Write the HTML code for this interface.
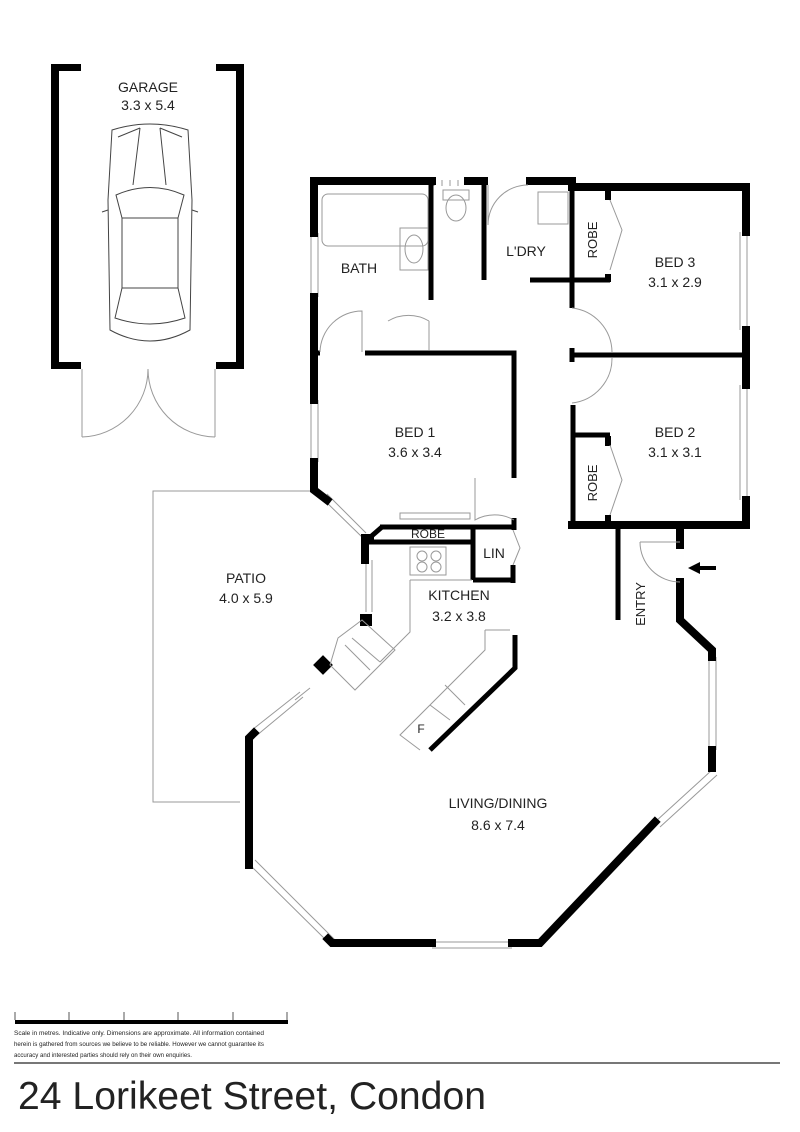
<!DOCTYPE html>
<html><head><meta charset="utf-8"><style>
body{margin:0;background:#fff;}
svg{display:block}
text{font-family:"Liberation Sans",sans-serif;fill:#222;}
</style></head><body>
<svg width="800" height="1132" viewBox="0 0 800 1132" xmlns="http://www.w3.org/2000/svg">
<!-- Garage -->
<g fill="#000">
<rect x="51" y="64" width="8" height="305"/><rect x="51" y="64" width="30" height="7"/><rect x="51" y="362" width="30" height="7"/>
<rect x="236" y="64" width="8" height="305"/><rect x="216" y="64" width="28" height="7"/><rect x="216" y="362" width="28" height="7"/>
</g>
<g fill="none" stroke="#999" stroke-width="1">
<line x1="82" y1="369" x2="82" y2="437"/><path d="M82 437 A68 68 0 0 0 148 369"/>
<line x1="215" y1="369" x2="215" y2="437"/><path d="M215 437 A68 68 0 0 1 148 369"/>
</g>
<g fill="none" stroke="#444" stroke-width="1">
<path d="M112 130 Q150 118 188 130 L192 200 L190 330 Q150 352 110 330 L108 200 Z"/>
<path d="M118 137 L140 128 M182 137 L160 128"/>
<path d="M140 128 L133 185 M160 128 L166 185"/>
<path d="M116 195 Q150 180 184 195 L178 218 L122 218 Z"/>
<rect x="122" y="218" width="56" height="70"/>
<path d="M122 288 L115 318 Q150 330 185 318 L178 288"/>
<path d="M108 210 L102 212 M192 210 L198 212"/>
</g>
<text x="148" y="92" font-size="14" text-anchor="middle">GARAGE</text>
<text x="148" y="110" font-size="14" text-anchor="middle">3.3 x 5.4</text>

<!-- Patio -->
<path d="M318 491 L153 491 L153 802 L240 802" fill="none" stroke="#999" stroke-width="1"/>

<!-- windows -->
<g fill="none" stroke="#999" stroke-width="1">
<path d="M311 233 V297 M318 233 V297"/>
<path d="M311 400 V462 M318 400 V462"/>
<path d="M740 232 V330 M747 232 V330"/>
<path d="M740 385 V500 M747 385 V500"/>
<path d="M366 560 V612 M372 560 V612"/>
<path d="M709 657 V750 M716 657 V750"/>
<path d="M712 770 L655 822 M717 775 L660 827"/>
<path d="M432 942 H512 M432 948 H512"/>
<path d="M250 865 L330 944 M255 860 L335 940"/>
<path d="M322 498 L362 537 M327 494 L366 533"/>
<path d="M252 730 L300 692 M256 736 L303 697"/>
<path d="M295 700 L310 688"/>
<path d="M434 180 V186 M442 180 V186 M450 180 V186 M458 180 V186"/>
</g>

<!-- thick walls -->
<g stroke="#000" stroke-width="8" fill="none" stroke-linecap="square">
<path d="M314 233 V181 H432"/>
<path d="M468 181 H484"/>
<path d="M530 181 H572"/>
<path d="M572 187 H746 V232"/>
<path d="M314 297 V400"/>
<path d="M314 462 V490 L327 500"/>
<path d="M746 330 V385"/>
<path d="M746 500 V525 H572"/>
<path d="M680 530 V545"/>
<path d="M680 582 V620 L712 650 V657"/>
<path d="M712 750 V768"/>
<path d="M655 822 L540 943 H512"/>
<path d="M432 943 H332 L328 939"/>
<path d="M249 865 V738 L254 733"/>
<path d="M365 538 V560"/>
</g>
<g stroke="#000" stroke-width="5" fill="none">
<path d="M431 181 V280"/>
<path d="M484 181 V280"/>
<path d="M530 280 H572"/>
<path d="M572 181 V308"/>
<path d="M572 280 H610"/>
<path d="M572 355 H746"/>
<path d="M572 348 V362"/>
<path d="M573 405 V523"/>
<path d="M573 435 H610"/>
<path d="M365 353 H514 V478"/>
<path d="M431 280 V300"/>
<path d="M318 353 H320"/>
<path d="M514 518 V530 M380 527 H515 M365 542 H473 M473 527 V580 M473 580 H515 M513 565 V583"/>
<path d="M367 540 L382 527"/>
<path d="M515 635 V668 L430 750"/>
<path d="M618 523 V620"/>
</g>
<g fill="#000">
<rect x="605" y="188" width="6" height="12"/><rect x="605" y="274" width="6" height="8"/>
<rect x="605" y="436" width="6" height="10"/><rect x="605" y="515" width="6" height="10"/>
<rect x="316" y="658" width="14" height="14" transform="rotate(45 323 665)"/>
<rect x="360" y="614" width="12" height="12"/>
<rect x="366" y="534" width="8" height="10"/>
</g>
<path d="M688 568 L700 562 V566 H716 V570 H700 V574 Z" fill="#000"/>

<!-- doors & fixtures -->
<g fill="none" stroke="#999" stroke-width="1">
<path d="M488 225 A40 40 0 0 1 528 185 M488 225 V185"/>
<path d="M388 321 A40 40 0 0 1 429 321 M429 321 V350"/>
<path d="M320 352 A42 42 0 0 1 362 311 V352"/>
<path d="M572 308 A45 45 0 0 1 612 352"/>
<path d="M572 403 A45 45 0 0 0 612 358"/>
<path d="M475 478 V520 A40 40 0 0 1 514 520"/>
<path d="M640 542 H680 M640 542 A40 40 0 0 0 680 582"/>
<path d="M610 200 L622 230 L610 270"/>
<path d="M610 445 L622 480 L610 515"/>
<path d="M513 530 L520 548 L513 565"/>
<rect x="400" y="513" width="70" height="6"/>
<rect x="322" y="194" width="106" height="52" rx="6"/>
<rect x="400" y="228" width="28" height="42"/>
<ellipse cx="414" cy="249" rx="9" ry="14"/>
<ellipse cx="456" cy="208" rx="10" ry="13"/>
<rect x="443" y="190" width="26" height="10"/>
<rect x="538" y="192" width="30" height="32"/>
<rect x="410" y="547" width="36" height="28"/>
<circle cx="422" cy="556" r="5"/><circle cx="436" cy="556" r="5"/><circle cx="422" cy="567" r="5"/><circle cx="436" cy="567" r="5"/>
<path d="M410 580 V632 L380 662"/>
<path d="M410 580 H472"/>
<path d="M485 630 H510 M485 630 V650 L400 735 L420 750"/>
<path d="M445 685 L465 705 M430 705 L450 720"/>
<path d="M338 638 L362 620 L395 650 L355 690 L330 665 Z"/>
<path d="M345 645 L370 670 M352 638 L380 662"/>
</g>

<!-- labels -->
<g font-size="14" text-anchor="middle">
<text x="359" y="273">BATH</text>
<text x="526" y="256">L'DRY</text>
<text x="675" y="267">BED 3</text><text x="675" y="287">3.1 x 2.9</text>
<text x="675" y="437">BED 2</text><text x="675" y="457">3.1 x 3.1</text>
<text x="415" y="437">BED 1</text><text x="415" y="457">3.6 x 3.4</text>
<text x="428" y="538" font-size="12">ROBE</text>
<text x="494" y="558">LIN</text>
<text x="459" y="600">KITCHEN</text><text x="459" y="621">3.2 x 3.8</text>
<text x="246" y="583">PATIO</text><text x="246" y="603">4.0 x 5.9</text>
<text x="498" y="808">LIVING/DINING</text><text x="498" y="830">8.6 x 7.4</text>
<text x="421" y="733" font-size="12">F</text>
<text transform="translate(597 240) rotate(-90)" font-size="13">ROBE</text>
<text transform="translate(597 483) rotate(-90)" font-size="13">ROBE</text>
<text transform="translate(645 604) rotate(-90)" font-size="13">ENTRY</text>
</g>

<!-- scale -->
<rect x="15" y="1020" width="273" height="4" fill="#000"/>
<g stroke="#555" stroke-width="1">
<line x1="15" y1="1012" x2="15" y2="1020"/><line x1="69" y1="1012" x2="69" y2="1020"/><line x1="124" y1="1012" x2="124" y2="1020"/><line x1="178" y1="1012" x2="178" y2="1020"/><line x1="233" y1="1012" x2="233" y2="1020"/><line x1="287" y1="1012" x2="287" y2="1020"/>
</g>
<g font-size="6.5" fill="#333">
<text x="14" y="1035" textLength="250" lengthAdjust="spacingAndGlyphs">Scale in metres. Indicative only. Dimensions are approximate. All information contained</text>
<text x="14" y="1046" textLength="250" lengthAdjust="spacingAndGlyphs">herein is gathered from sources we believe to be reliable. However we cannot guarantee its</text>
<text x="14" y="1057" textLength="178" lengthAdjust="spacingAndGlyphs">accuracy and interested parties should rely on their own enquiries.</text>
</g>
<rect x="14" y="1062" width="766" height="2" fill="#777"/>
<text x="18" y="1109" font-size="39" fill="#111" textLength="468" lengthAdjust="spacingAndGlyphs">24 Lorikeet Street, Condon</text>
</svg>
</body></html>
